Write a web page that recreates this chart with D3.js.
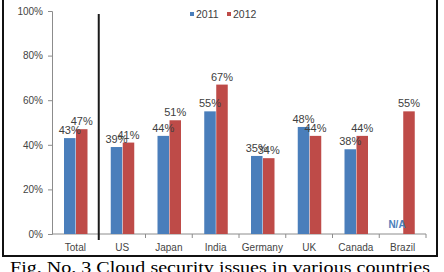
<!DOCTYPE html>
<html>
<head>
<meta charset="utf-8">
<script src="https://cdn.jsdelivr.net/npm/d3@7"></script>
<style>
  body { margin: 0; background: #fff; }
  svg { display: block; }
</style>
</head>
<body>
<div id="chart"></div>
<script>
// data
const categories = ['Total', 'US', 'Japan', 'India', 'Germany', 'UK', 'Canada', 'Brazil'];
const seriesNames = ['2011', '2012'];
const values2011 = [43, 39, 44, 55, 35, 48, 38, null];
const values2012 = [47, 41, 51, 67, 34, 44, 44, 55];
const yTicks = [0, 20, 40, 60, 80, 100];
const caption = 'Fig. No. 3 Cloud security issues in various countries';

const colors = { '2011': '#4a7ebb', '2012': '#be4b48' };
const W = 444, H = 272;

const svg = d3.select('#chart')
  .append('svg')
  .attr('width', W)
  .attr('height', H);

// frame round the chart
svg.append('rect')
  .attr('x', 3).attr('y', -3)
  .attr('width', 434).attr('height', 259)
  .attr('fill', 'none')
  .attr('stroke', '#111')
  .attr('stroke-width', 2);

// scales
const x = d3.scaleBand()
  .domain(categories)
  .range([52, 426]);

const xs = d3.scaleBand()
  .domain(seriesNames)
  .range([12, 35.5])
  .paddingInner(0.04);

const y = d3.scaleLinear()
  .domain([0, 100])
  .range([234, 11]);

// y axis
const yAxis = svg.append('g')
  .attr('transform', 'translate(52,0)')
  .call(d3.axisLeft(y).tickValues(yTicks).tickSize(4).tickPadding(5)
    .tickFormat(d => d + '%'));
yAxis.select('.domain').attr('stroke', '#8c8c8c');
yAxis.selectAll('.tick line').attr('stroke', '#8c8c8c');
yAxis.selectAll('text')
  .attr('fill', '#444')
  .style('font-family', 'Liberation Sans, Arial, sans-serif')
  .style('font-size', '10px');

// x axis line and ticks on category boundaries
svg.append('line')
  .attr('x1', 52).attr('x2', 426)
  .attr('y1', y(0)).attr('y2', y(0))
  .attr('stroke', '#8c8c8c');

svg.selectAll('line.xtick')
  .data(categories)
  .enter().append('line')
  .attr('class', 'xtick')
  .attr('x1', d => x(d) + x.bandwidth())
  .attr('x2', d => x(d) + x.bandwidth())
  .attr('y1', y(0)).attr('y2', y(0) + 4)
  .attr('stroke', '#8c8c8c');

svg.selectAll('text.xlab')
  .data(categories)
  .enter().append('text')
  .attr('class', 'xlab')
  .attr('x', d => x(d) + x.bandwidth() / 2)
  .attr('y', 251)
  .attr('text-anchor', 'middle')
  .attr('fill', '#444')
  .style('font-family', 'Liberation Sans, Arial, sans-serif')
  .style('font-size', '10px')
  .text(d => d);

// bars
const rows = [];
categories.forEach((c, i) => {
  rows.push({ cat: c, s: '2011', v: values2011[i] });
  rows.push({ cat: c, s: '2012', v: values2012[i] });
});
const present = rows.filter(d => d.v !== null);

svg.selectAll('rect.bar')
  .data(present)
  .enter().append('rect')
  .attr('class', 'bar')
  .attr('x', d => x(d.cat) + xs(d.s))
  .attr('y', d => y(d.v))
  .attr('width', xs.bandwidth())
  .attr('height', d => y(0) - y(d.v))
  .attr('fill', d => colors[d.s]);

// value labels
svg.selectAll('text.val')
  .data(present)
  .enter().append('text')
  .attr('class', 'val')
  .attr('x', d => x(d.cat) + xs(d.s) + xs.bandwidth() / 2)
  .attr('y', d => y(d.v) - 4)
  .attr('text-anchor', 'middle')
  .attr('fill', '#404040')
  .style('font-family', 'Liberation Sans Narrow, Liberation Sans, Arial, sans-serif')
  .style('font-size', '11px')
  .text(d => d.v + '%');

// N/A for missing values
svg.selectAll('text.na')
  .data(rows.filter(d => d.v === null))
  .enter().append('text')
  .attr('class', 'na')
  .attr('x', d => x(d.cat) + xs(d.s) + xs.bandwidth() / 2)
  .attr('y', y(0) - 6)
  .attr('text-anchor', 'middle')
  .attr('fill', '#4a7ebb')
  .style('font-family', 'Liberation Sans, Arial, sans-serif')
  .style('font-size', '10px')
  .style('font-weight', 'bold')
  .text('N/A');

// dark separator line after Total
svg.append('line')
  .attr('x1', x('US')).attr('x2', x('US'))
  .attr('y1', 14).attr('y2', 240)
  .attr('stroke', '#1a1a1a')
  .attr('stroke-width', 2);

// legend
const legend = svg.append('g').attr('transform', 'translate(190,14)');
const lg = legend.selectAll('g')
  .data(seriesNames)
  .enter().append('g')
  .attr('transform', (d, i) => `translate(${i * 37},0)`);
lg.append('rect')
  .attr('x', 0).attr('y', -2)
  .attr('width', 4).attr('height', 4)
  .attr('fill', d => colors[d]);
lg.append('text')
  .attr('x', 6).attr('y', 4)
  .attr('fill', '#404040')
  .style('font-family', 'Liberation Sans, Arial, sans-serif')
  .style('font-size', '10.5px')
  .text(d => d);

// caption under the frame
svg.append('text')
  .attr('x', 10)
  .attr('y', 273)
  .attr('textLength', 420)
  .attr('lengthAdjust', 'spacingAndGlyphs')
  .attr('fill', '#000')
  .style('font-family', 'Liberation Serif, Times New Roman, serif')
  .style('font-size', '17px')
  .text(caption);
</script>
</body>
</html>
